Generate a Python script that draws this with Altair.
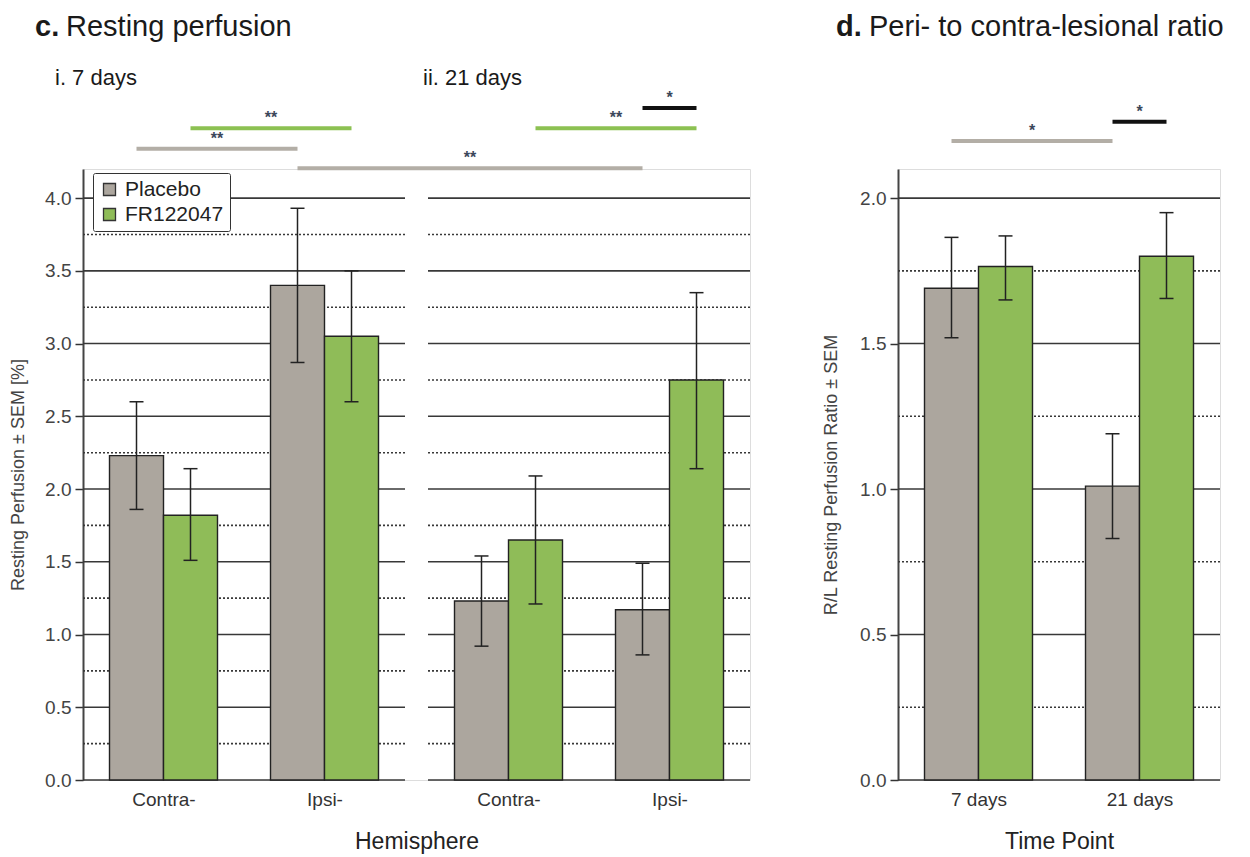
import altair as alt
import pandas as pd

# ---------------- data ----------------
hemispheres = ["Contra-", "Ipsi-"]
treatments = ["Placebo", "FR122047"]
timepoints = ["7 days", "21 days"]

# c. Resting perfusion [%], values per hemisphere [Contra-, Ipsi-]
d7_placebo = [2.23, 3.40]
d7_placebo_lo = [1.86, 2.87]
d7_placebo_hi = [2.60, 3.93]
d7_fr = [1.82, 3.05]
d7_fr_lo = [1.51, 2.60]
d7_fr_hi = [2.14, 3.50]

d21_placebo = [1.23, 1.17]
d21_placebo_lo = [0.92, 0.86]
d21_placebo_hi = [1.54, 1.49]
d21_fr = [1.65, 2.75]
d21_fr_lo = [1.21, 2.14]
d21_fr_hi = [2.09, 3.35]

# d. Peri- to contra-lesional ratio, values per time point [7 days, 21 days]
ratio_placebo = [1.69, 1.01]
ratio_placebo_lo = [1.52, 0.83]
ratio_placebo_hi = [1.865, 1.19]
ratio_fr = [1.765, 1.80]
ratio_fr_lo = [1.65, 1.655]
ratio_fr_hi = [1.87, 1.95]

# significance brackets, panel c: bars given as (time point idx, hemisphere idx, treatment idx)
sig_c_from = [(0, 0, 1), (0, 0, 0), (0, 1, 0), (1, 0, 1), (1, 1, 0)]
sig_c_to = [(0, 1, 1), (0, 1, 0), (1, 1, 0), (1, 1, 1), (1, 1, 1)]
sig_c_level = [4.48, 4.34, 4.205, 4.48, 4.62]
sig_c_label = ["**", "**", "**", "**", "*"]
sig_c_group = ["FR122047", "Placebo", "Placebo", "FR122047", "between"]

# significance brackets, panel d: bars given as (time point idx, treatment idx)
sig_d_from = [(0, 0), (1, 0)]
sig_d_to = [(1, 0), (1, 1)]
sig_d_level = [2.196, 2.262]
sig_d_label = ["*", "*"]
sig_d_group = ["Placebo", "between"]

# ---------------- styling / layout ----------------
FONT = "Liberation Sans"
GRAY = "#aca69e"
GREEN = "#8fbc58"
BRACKET = {"Placebo": "#b3aea6", "FR122047": "#8cc152", "between": "#111111"}
GRID = "#383838"
TEXT = "#333333"

STEP_PX = 161.0
GAP = 23.0 / STEP_PX          # gap between 7-day and 21-day sub-panels
BAR_W = 54.0 / STEP_PX        # bar width in group units
CAP = 7.0 / STEP_PX           # half width of error-bar caps
PLOT_H = 611

C_SPAN = 2 * 2 + GAP
C_W = int(round(C_SPAN * STEP_PX))
D_W = int(round(2 * STEP_PX))


def centre(panel, group):
    return panel * (2 + GAP) + group + 0.5


def bar_mid(panel, group, treat):
    return centre(panel, group) + (treat - 0.5) * BAR_W


# ---------- panel c table ----------
c_series = {
    (0, 0): (d7_placebo, d7_placebo_lo, d7_placebo_hi),
    (0, 1): (d7_fr, d7_fr_lo, d7_fr_hi),
    (1, 0): (d21_placebo, d21_placebo_lo, d21_placebo_hi),
    (1, 1): (d21_fr, d21_fr_lo, d21_fr_hi),
}
rows = []
for (p, t), (vals, los, his) in c_series.items():
    for g, hemi in enumerate(hemispheres):
        m = bar_mid(p, g, t)
        rows.append(dict(panel=timepoints[p], hemisphere=hemi, treatment=treatments[t],
                         value=vals[g], lo=los[g], hi=his[g], zero=0.0,
                         x0=m - BAR_W / 2, x1=m + BAR_W / 2, mid=m,
                         c0=m - CAP, c1=m + CAP))
bars_c = pd.DataFrame(rows)

d_series = {0: (ratio_placebo, ratio_placebo_lo, ratio_placebo_hi),
            1: (ratio_fr, ratio_fr_lo, ratio_fr_hi)}
rows = []
for t, (vals, los, his) in d_series.items():
    for g, tp in enumerate(timepoints):
        m = bar_mid(0, g, t)
        rows.append(dict(timepoint=tp, treatment=treatments[t], value=vals[g], lo=los[g],
                         hi=his[g], zero=0.0, x0=m - BAR_W / 2, x1=m + BAR_W / 2, mid=m,
                         c0=m - CAP, c1=m + CAP))
bars_d = pd.DataFrame(rows)

# brackets
sig_c = pd.DataFrame([
    dict(x0=bar_mid(*a), x1=bar_mid(*b), y=lv, label=lb, col=BRACKET[gr],
         xm=(bar_mid(*a) + bar_mid(*b)) / 2)
    for a, b, lv, lb, gr in zip(sig_c_from, sig_c_to, sig_c_level, sig_c_label, sig_c_group)
])
sig_d = pd.DataFrame([
    dict(x0=bar_mid(0, a[0], a[1]), x1=bar_mid(0, b[0], b[1]), y=lv, label=lb, col=BRACKET[gr],
         xm=(bar_mid(0, a[0], a[1]) + bar_mid(0, b[0], b[1])) / 2)
    for a, b, lv, lb, gr in zip(sig_d_from, sig_d_to, sig_d_level, sig_d_label, sig_d_group)
])


def grid_frame(panels, ymax, step):
    rows = []
    n = int(round(ymax / step))
    for p in panels:
        for i in range(n + 1):
            rows.append(dict(x0=p * (2 + GAP), x1=p * (2 + GAP) + 2, y=i * step,
                             kind="solid" if i % 2 == 0 else "dot"))
    return pd.DataFrame(rows)


grid_c = grid_frame([0, 1], 4.0, 0.25)
grid_d = grid_frame([0], 2.0, 0.25)


def label_expr(centres, names):
    expr = f"'{names[-1]}'"
    for i in range(len(centres) - 2, -1, -1):
        cut = (centres[i] + centres[i + 1]) / 2
        expr = f"datum.value < {cut:.4f} ? '{names[i]}' : ({expr})"
    return expr


def make_panel(bars, grid, sig, x_span, width, ymax, ytitle, x_centres, x_names, xtitle,
               legend, texts, ytitle_pad):
    xsc = alt.Scale(domain=[0, x_span], nice=False, zero=False)
    ysc = alt.Scale(domain=[0, ymax], nice=False, zero=True)
    xaxis = alt.Axis(values=x_centres, labelExpr=label_expr(x_centres, x_names),
                     domain=False, ticks=False, grid=False, title=xtitle,
                     labelFontSize=19, labelColor=TEXT, labelPadding=10, labelFont=FONT,
                     titleFontSize=23, titleFontWeight="normal", titleColor="#222",
                     titlePadding=21, titleFont=FONT)
    yvals = [round(i * 0.5, 1) for i in range(int(round(ymax // 0.5)) + 1)]
    yaxis = alt.Axis(values=yvals, format=".1f", grid=False, title=ytitle,
                     tickSize=8, tickColor="#333", tickWidth=1.5,
                     domainColor="#444", domainWidth=2,
                     labelFontSize=19, labelColor="#444", labelPadding=4, labelFont=FONT,
                     titleFontSize=18, titleFontWeight="normal", titleColor="#444",
                     titlePadding=ytitle_pad, titleFont=FONT)

    def X(f):
        return alt.X(f"{f}:Q", scale=xsc, axis=xaxis)

    def Y(f):
        return alt.Y(f"{f}:Q", scale=ysc, axis=yaxis)

    g_solid = alt.Chart(grid[grid.kind == "solid"]).mark_rule(
        color=GRID, strokeWidth=1.6).encode(x=X("x0"), x2="x1", y=Y("y"))
    g_dot = alt.Chart(grid[grid.kind == "dot"]).mark_rule(
        color=GRID, strokeWidth=1.6, strokeDash=[2, 2]).encode(x=X("x0"), x2="x1", y=Y("y"))

    rect = alt.Chart(bars).mark_rect(stroke="#222", strokeWidth=1.4).encode(
        x=X("x0"), x2="x1", y=Y("value"), y2="zero",
        color=alt.Color("treatment:N",
                        scale=alt.Scale(domain=treatments, range=[GRAY, GREEN]),
                        legend=legend))
    err = alt.Chart(bars).mark_rule(color="#222", strokeWidth=1.5).encode(
        x=X("mid"), y=Y("lo"), y2="hi")
    cap_lo = alt.Chart(bars).mark_rule(color="#222", strokeWidth=1.5).encode(
        x=X("c0"), x2="c1", y=Y("lo"))
    cap_hi = alt.Chart(bars).mark_rule(color="#222", strokeWidth=1.5).encode(
        x=X("c0"), x2="c1", y=Y("hi"))

    br = alt.Chart(sig).mark_rule(strokeWidth=4).encode(
        x=X("x0"), x2="x1", y=Y("y"), stroke=alt.Stroke("col:N", scale=None))
    stars = alt.Chart(sig).mark_text(fontSize=16, fontWeight="bold", color="#3b475a",
                                     baseline="middle", dy=-10, font=FONT).encode(
        x=X("xm"), y=Y("y"), text="label:N")

    layers = [g_solid, g_dot, rect, err, cap_lo, cap_hi, br, stars]
    for (txt, dx, dy, size, weight) in texts:
        layers.append(
            alt.Chart(pd.DataFrame({"t": [txt]})).mark_text(
                align="left", baseline="alphabetic", fontSize=size, fontWeight=weight,
                color="#1a1a1a", font=FONT).encode(
                text="t:N", x=alt.value(dx), y=alt.value(dy)))
    return alt.layer(*layers).properties(width=width, height=PLOT_H)


legend_c = alt.Legend(title=None, orient="none", legendX=10, legendY=4,
                      symbolType="square", symbolSize=144, symbolStrokeColor="#333",
                      symbolStrokeWidth=1.3, symbolOpacity=1,
                      labelFontSize=21, labelColor="#222", labelFont=FONT, labelOffset=5,
                      strokeColor="#333", fillColor="white", padding=6, cornerRadius=2,
                      rowPadding=3)

panel_c = make_panel(
    bars_c, grid_c, sig_c, C_SPAN, C_W, 4.2, "Resting Perfusion ± SEM [%]",
    [centre(p, g) for p in range(2) for g in range(2)], hemispheres * 2, "Hemisphere",
    legend_c,
    [("c.", -48, -133, 29, "bold"), ("Resting perfusion", -17, -133, 29, "normal"),
     ("i. 7 days", -28, -84, 22, "normal"), ("ii. 21 days", 340, -84, 22, "normal")],
    17)

panel_d = make_panel(
    bars_d, grid_d, sig_d, 2.0, D_W, 2.1, "R/L Resting Perfusion Ratio ± SEM",
    [centre(0, g) for g in range(2)], timepoints, "Time Point",
    None,
    [("d.", -62, -133, 29, "bold"), ("Peri- to contra-lesional ratio", -29, -133, 29, "normal")],
    19)

chart = alt.hconcat(panel_c, panel_d, spacing=70).resolve_scale(
    color="independent").resolve_legend(color="independent").properties(
    padding={"left": 1, "top": 4, "right": 5, "bottom": 5}
).configure_view(stroke=None).configure(font=FONT)

chart.save("out.html", embed_options={"renderer": "svg", "actions": False})
